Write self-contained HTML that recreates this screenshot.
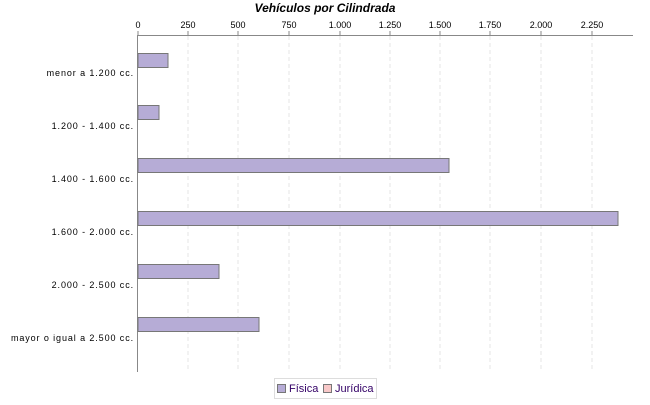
<!DOCTYPE html>
<html><head><meta charset="utf-8"><style>
body{margin:0;background:#fff;}
svg text{font-family:"Liberation Sans",sans-serif;}
</style></head><body>
<svg width="650" height="400" xmlns="http://www.w3.org/2000/svg">
<rect width="650" height="400" fill="#fff"/>
<text x="325" y="12" text-anchor="middle" font-size="12" font-weight="bold" font-style="italic">Vehículos por Cilindrada</text>
<g stroke="#e4e4e4" stroke-dasharray="4,3">
<line x1="188" y1="36" x2="188" y2="372"/><line x1="238" y1="36" x2="238" y2="372"/>
<line x1="289" y1="36" x2="289" y2="372"/><line x1="340" y1="36" x2="340" y2="372"/>
<line x1="390" y1="36" x2="390" y2="372"/><line x1="440" y1="36" x2="440" y2="372"/>
<line x1="490" y1="36" x2="490" y2="372"/><line x1="541" y1="36" x2="541" y2="372"/>
<line x1="592" y1="36" x2="592" y2="372"/>
</g>
<line x1="138" y1="35.5" x2="633" y2="35.5" stroke="#888"/>
<line x1="137.5" y1="35" x2="137.5" y2="372" stroke="#888"/>
<g stroke="#888"><line x1="138" y1="31" x2="138" y2="35"/><line x1="188" y1="31" x2="188" y2="35"/><line x1="238" y1="31" x2="238" y2="35"/><line x1="289" y1="31" x2="289" y2="35"/><line x1="340" y1="31" x2="340" y2="35"/><line x1="390" y1="31" x2="390" y2="35"/><line x1="440" y1="31" x2="440" y2="35"/><line x1="490" y1="31" x2="490" y2="35"/><line x1="541" y1="31" x2="541" y2="35"/><line x1="592" y1="31" x2="592" y2="35"/></g>
<g font-size="9" text-anchor="middle">
<text x="138" y="28">0</text><text x="188" y="28">250</text><text x="238" y="28">500</text><text x="289" y="28">750</text><text x="340" y="28">1.000</text><text x="390" y="28">1.250</text><text x="440" y="28">1.500</text><text x="490" y="28">1.750</text><text x="541" y="28">2.000</text><text x="592" y="28">2.250</text>
</g>
<g fill="#b6acd6" stroke="#777">
<rect x="138" y="53.5" width="30" height="14"/>
<rect x="138" y="105.5" width="21" height="14"/>
<rect x="138" y="158.5" width="311" height="14"/>
<rect x="138" y="211.5" width="480" height="14"/>
<rect x="138" y="264.5" width="81" height="14"/>
<rect x="138" y="317.5" width="121" height="14"/>
</g>
<g font-size="9" text-anchor="end" letter-spacing="0.9">
<text x="134" y="76">menor a 1.200 cc.</text>
<text x="134" y="129">1.200 - 1.400 cc.</text>
<text x="134" y="182">1.400 - 1.600 cc.</text>
<text x="134" y="235">1.600 - 2.000 cc.</text>
<text x="134" y="288">2.000 - 2.500 cc.</text>
<text x="134" y="341">mayor o igual a 2.500 cc.</text>
</g>
<rect x="274.5" y="378.5" width="102" height="20" fill="#fff" stroke="#ddd"/>
<rect x="277.5" y="384.5" width="8" height="8" fill="#b6acd6" stroke="#777"/>
<text x="289" y="392" font-size="11" fill="#330066">Física</text>
<rect x="323.5" y="384.5" width="8" height="8" fill="#f8c8c8" stroke="#777"/>
<text x="335" y="392" font-size="11" fill="#330066">Jurídica</text>
</svg>
</body></html>
